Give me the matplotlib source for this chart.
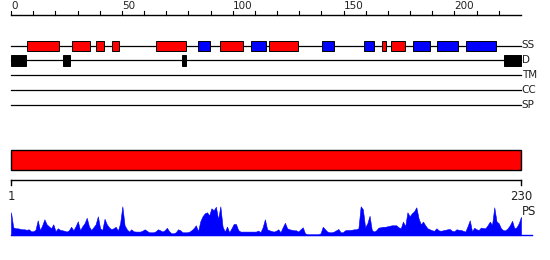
import numpy as np
import matplotlib.pyplot as plt
from matplotlib.patches import Rectangle

# sequence length
n_res = 230

# secondary structure (residue ranges) - red = helix, blue = strand
helix_start = [7.4, 27.7, 38.5, 45.7, 65.5, 94.4, 116.4, 167.3, 171.5]
helix_end = [21.5, 35.5, 41.8, 48.6, 78.8, 104.5, 129.6, 169.3, 177.6]
strand_start = [84.5, 108.3, 140.4, 159.4, 181.5, 192.3, 205.4]
strand_end = [89.6, 114.9, 145.6, 163.6, 188.9, 201.5, 218.6]

# disordered regions
dis_start = [0, 23.6, 77.1, 222.5]
dis_end = [6.8, 26.6, 78.8, 230]

row_labels = ["SS", "D", "TM", "CC", "SP"]
top_ticks = list(range(0, 230, 10))
top_ticklabels = [0, 50, 100, 150, 200]

# per-residue profile (PS)
ps = [23, 8, 7, 7, 6.5, 6, 6, 5.5, 6, 4,
      4, 5.5, 15, 5, 10, 16, 11, 9, 7, 11,
      4, 7, 5.5, 5, 4.5, 3.7, 5, 8.5, 5, 9,
      14, 5, 9, 12, 17.5, 9, 5.3, 8, 11, 19,
      7, 5.3, 16.5, 11, 8, 6, 7, 8.5, 4.7, 12,
      29, 10, 6, 3.7, 6, 4, 3.7, 3.7, 3.7, 4.5,
      6, 4.5, 3, 3, 3, 4, 6, 5, 3.7, 5,
      7.5, 4, 2, 2, 3, 6, 5, 3, 3, 3,
      3.5, 5, 7, 10, 4, 14, 19, 22, 23, 20,
      27, 25, 28.5, 16, 29, 8.7, 3.7, 8.7, 3, 7,
      11.3, 11.3, 5.3, 3.7, 3.7, 3.7, 3.7, 3.7, 3.7, 3.7,
      3.7, 4.7, 3, 8, 16, 6, 5, 4.2, 3.7, 4.5,
      6, 3, 8, 12.5, 7, 6, 5.5, 5, 5, 3.7,
      6, 8, 2, 1, 1, 1, 1, 1, 1, 2,
      8.5, 6, 3.7, 3, 3, 3.7, 5, 6.3, 3, 3,
      5, 5.3, 5.3, 5.5, 6, 6, 7, 29, 26, 8,
      12, 19.5, 5.3, 3.7, 5, 7.7, 8, 8.5, 8.5, 9,
      9.5, 10, 10, 10, 8, 7, 13.7, 9, 23, 19,
      22, 24, 28, 17, 11, 13.7, 10, 7, 6, 5,
      4.5, 7, 5, 4.5, 5, 5.5, 6, 6.3, 4.5, 4,
      6, 5.5, 5.3, 4.5, 3.7, 9, 15, 4, 7.5, 6,
      5.3, 7.7, 7.2, 7, 10, 13.7, 10.3, 28, 14, 12,
      7, 5, 5, 7, 10, 14.5, 7, 8, 12, 18.5]

fig = plt.figure(figsize=(5.5, 2.6), dpi=100)

# top part: position 0..230 -> 11..521 px
ax = fig.add_axes([0, 0, 1, 1])
ax.set_xlim(-11 / 2.2174, n_res + 29 / 2.2174)
ax.set_ylim(260, 0)
ax.axis("off")

# ruler
ax.plot([0, n_res], [14.7, 14.7], color="black", lw=1)
for t in top_ticks:
    ax.plot([t, t], [14.7, 10.7], color="black", lw=0.8)
for t in top_ticklabels:
    ax.text(t, 11, str(t), ha="left", va="bottom", fontsize=7.5, color="#222222")

# track lines + labels
row_y = [45.5, 60.3, 75.3, 90.2, 105.3]
for y, lab in zip(row_y, row_labels):
    ax.plot([0, n_res], [y, y], color="black", lw=0.9, zorder=1)
    ax.text(n_res + 0.3, y, lab, ha="left", va="center", fontsize=7.5, color="#222222")

for s, e in zip(helix_start, helix_end):
    ax.add_patch(Rectangle((s, row_y[0] - 5), e - s, 10, facecolor="#ff0000",
                           edgecolor="black", lw=0.7, zorder=2))
for s, e in zip(strand_start, strand_end):
    ax.add_patch(Rectangle((s, row_y[0] - 5), e - s, 10, facecolor="#0000ff",
                           edgecolor="black", lw=0.7, zorder=2))
for s, e in zip(dis_start, dis_end):
    ax.add_patch(Rectangle((s, row_y[1] - 5.3), e - s, 10.6, facecolor="black",
                           edgecolor="black", lw=0.7, zorder=2))

# bottom part: residue 1..230 -> 11..521 px
ax2 = fig.add_axes([0, 0, 1, 1])
ax2.set_xlim(1 - 11 / 2.2271, n_res + 29 / 2.2271)
ax2.set_ylim(260, 0)
ax2.axis("off")

ax2.add_patch(Rectangle((1, 150.3), n_res - 1, 20, facecolor="#ff0000",
                        edgecolor="black", lw=1))
ax2.plot([1, n_res], [180.3, 180.3], color="black", lw=1)
for t in [1, n_res]:
    ax2.plot([t, t], [180.3, 184.5], color="black", lw=1)
    ax2.text(t, 189.5, str(t), ha="center", va="top", fontsize=8.5, color="#222222")

res = np.arange(1, n_res + 1)
base = 235.3
ax2.fill_between(res, base - np.array(ps), base, color="#0000ff", lw=0.4)
ax2.plot([1, n_res + 5], [base, base], color="#0000ff", lw=1)
ax2.text(n_res + 0.5, 211.5, "PS", ha="left", va="center", fontsize=8.5, color="#222222")

fig.savefig("out.png", dpi=100)
